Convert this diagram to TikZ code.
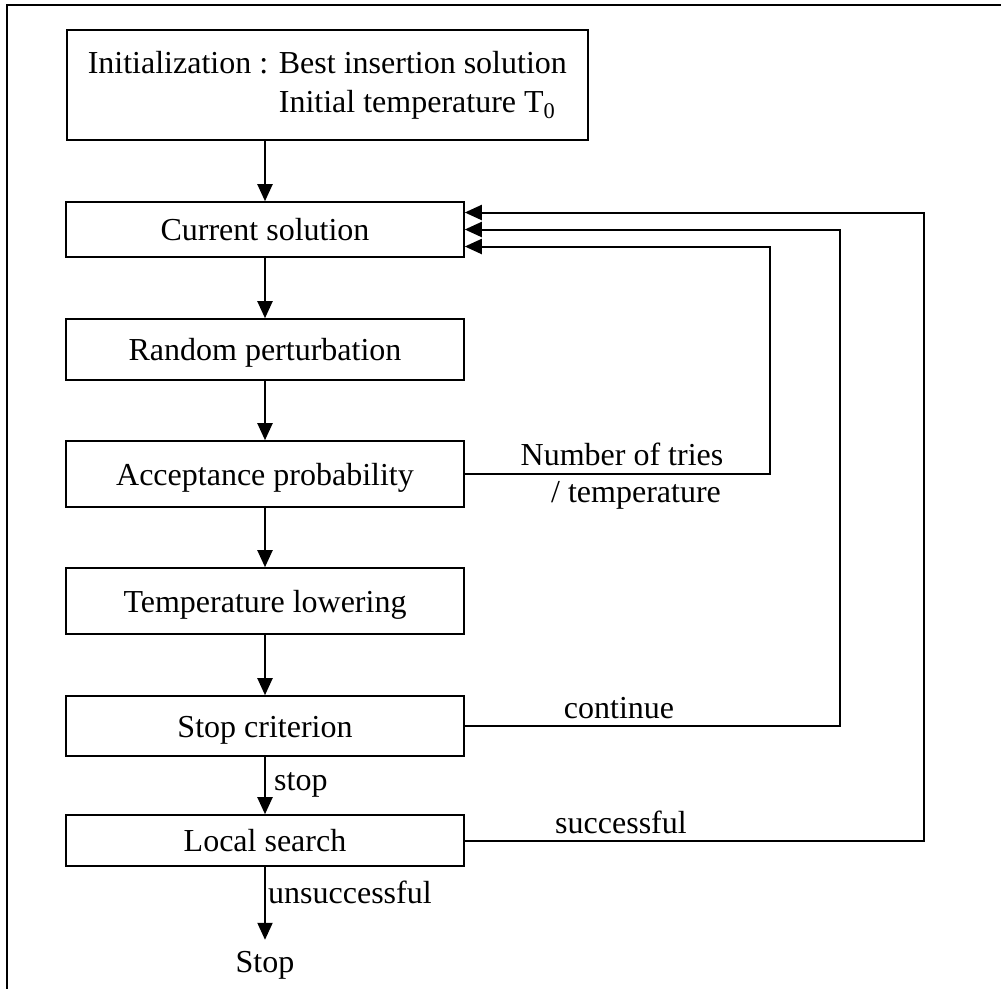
\documentclass[tikz,border=0pt]{standalone}
\usepackage{fontspec}
\setmainfont{Liberation Serif}
\usetikzlibrary{arrows.meta}
\begin{document}
\begin{tikzpicture}[x=1pt,y=-1pt,
  txt/.style={font=\fontsize{32}{39}\selectfont},
  box/.style={txt,draw,line width=1.6pt,minimum width=398pt,inner sep=0pt,
    text height=30pt,text depth=8pt},
  flow/.style={line width=2pt,-{Triangle[length=17pt,width=15pt]}},
  lbl/.style={txt,inner sep=0pt},
]
\useasboundingbox (0,0) rectangle (1001,989);
% frame
\draw[line width=2.2pt] (1001,5) -- (7,5) -- (7,989);

% flowchart boxes
\node[txt,draw,line width=1.6pt,align=left,inner xsep=21pt,inner ysep=0pt,
  minimum height=110pt,anchor=west] (init) at (66,85)
  {Initialization : Best insertion solution\\
   \phantom{Initialization : }Initial temperature T\textsubscript{0}};
\node[box,minimum height=55pt] (cur)   at (265,229.5) {Current solution};
\node[box,minimum height=61pt] (rand)  at (265,349.5) {Random perturbation};
\node[box,minimum height=66pt] (acc)   at (265,474)   {Acceptance probability};
\node[box,minimum height=66pt] (temp)  at (265,601)   {Temperature lowering};
\node[box,minimum height=60pt] (stopc) at (265,726)   {Stop criterion};
\node[box,minimum height=51pt] (local) at (265,840.5) {Local search};
\node[lbl,anchor=base,text height=32pt] (stop) at (265,972) {Stop};

% main flow
\draw[flow] (cur.north |- init.south) -- (cur.north);
\draw[flow] (cur) -- (rand);
\draw[flow] (rand) -- (acc);
\draw[flow] (acc) -- (temp);
\draw[flow] (temp) -- (stopc);
\draw[flow] (stopc) -- (local);
\draw[flow] (local) -- (stop);

% feedback loops
\draw[flow] (acc.east) -- ++(305,0) |- ([yshift=-17pt]cur.east);
\draw[flow] (stopc.east) -- ++(375,0) |- (cur.east);
\draw[flow] (local.east) -- ++(459,0) |- ([yshift=17pt]cur.east);

% labels
\node[lbl,anchor=base] (l1) at (622,465) {Number of tries};
\node[lbl,anchor=base] (l2) at (636,502) {/ temperature};
\node[lbl,anchor=base] (l3) at (619,718) {continue};
\node[lbl,anchor=base] (l4) at (621,833) {successful};
\node[lbl,anchor=base west] (l5) at (274,790) {stop};
\node[lbl,anchor=base west] (l6) at (268,903) {unsuccessful};
\end{tikzpicture}
\end{document}
